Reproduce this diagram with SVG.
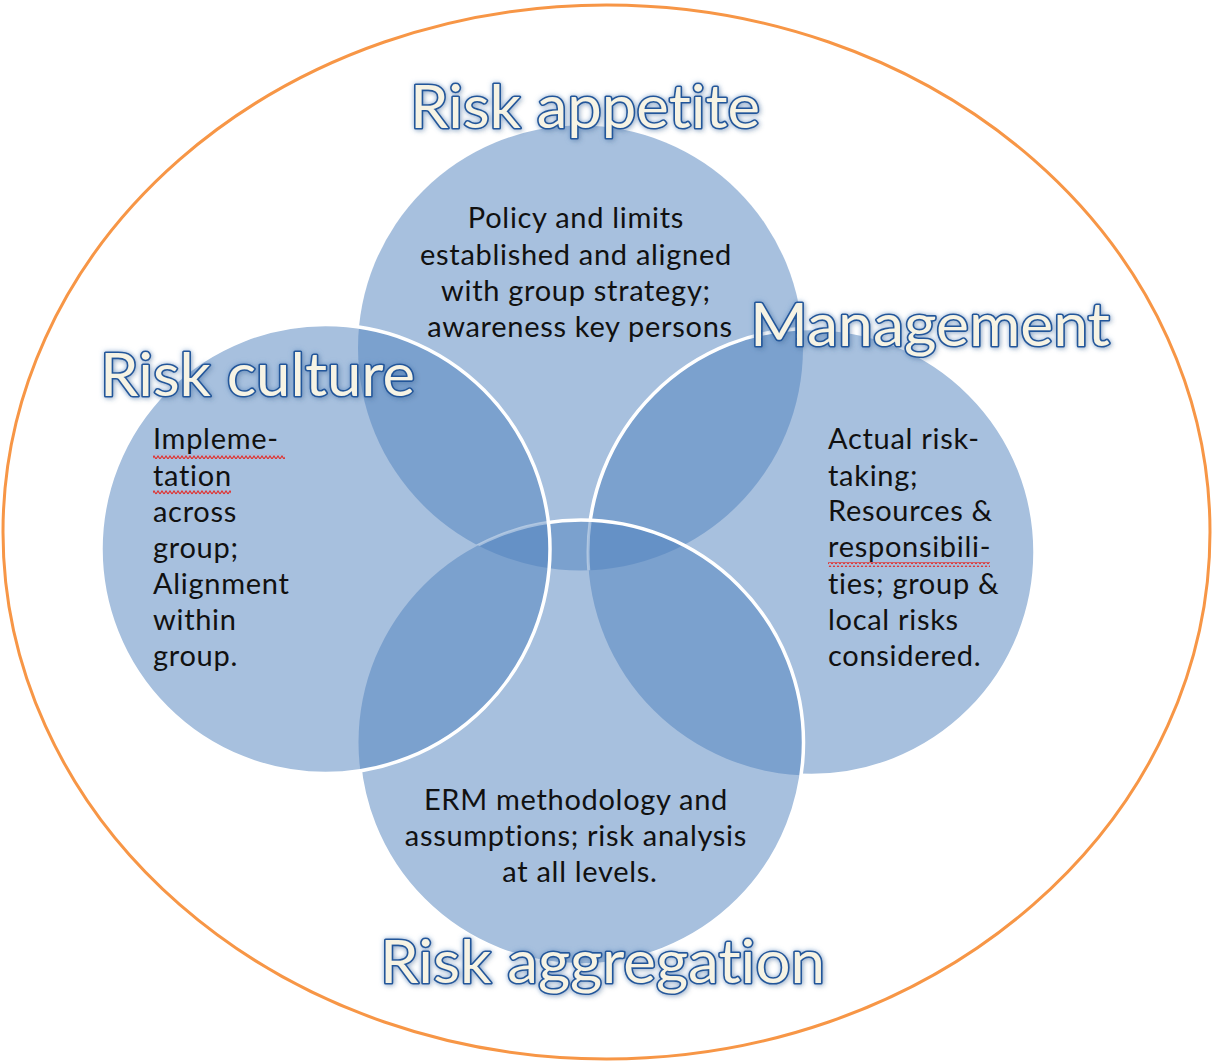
<svg xmlns="http://www.w3.org/2000/svg" width="1212" height="1064" viewBox="0 0 1212 1064">
  <style>
    .disc { fill: #4F81BD; fill-opacity: 0.5; stroke: none; }
    .edge { fill: none; stroke: #FFFFFF; stroke-width: 3.5; }
    .faint { fill: none; stroke: #FFFFFF; stroke-width: 3; stroke-opacity: 0.4; }
    .body { font-family: Lato, "Open Sans", "Liberation Sans", sans-serif; font-size: 29px; letter-spacing: 0.7px; fill: #111111; font-variant-ligatures: none; font-feature-settings: "liga" 0, "clig" 0, "dlig" 0; }
    .title { font-family: Lato, "Open Sans", "Liberation Sans", sans-serif; font-size: 60px; fill: #F6F3E4; stroke: #24579A; stroke-width: 3.2; paint-order: stroke fill; stroke-linejoin: round; filter: url(#glow); font-variant-ligatures: none; font-feature-settings: "liga" 0, "clig" 0, "dlig" 0; }
  </style>
  <defs>
    <filter id="glow" x="-10%" y="-30%" width="120%" height="160%">
      <feGaussianBlur in="SourceAlpha" stdDeviation="2.5" result="b"/>
      <feFlood flood-color="#4F81BD" flood-opacity="0.6"/>
      <feComposite in2="b" operator="in" result="g"/>
      <feOffset in="b" dx="2" dy="2" result="sb"/>
      <feFlood flood-color="#000000" flood-opacity="0.2"/>
      <feComposite in2="sb" operator="in" result="s"/>
      <feMerge>
        <feMergeNode in="s"/>
        <feMergeNode in="g"/>
        <feMergeNode in="SourceGraphic"/>
      </feMerge>
    </filter>
    <mask id="outB" maskUnits="userSpaceOnUse" x="0" y="0" width="1212" height="1064">
      <rect x="0" y="0" width="1212" height="1064" fill="#fff"/>
      <circle cx="581" cy="742.5" r="222.5" fill="#000"/>
    </mask>
    <mask id="outL" maskUnits="userSpaceOnUse" x="0" y="0" width="1212" height="1064">
      <rect x="0" y="0" width="1212" height="1064" fill="#fff"/>
      <circle cx="325.5" cy="549" r="224.5" fill="#000"/>
    </mask>
    <clipPath id="inT"><circle cx="580.5" cy="348" r="222.5"/></clipPath>
    <clipPath id="inB"><circle cx="581" cy="742.5" r="222.5"/></clipPath>
    <clipPath id="inL"><circle cx="325.5" cy="549" r="224.5"/></clipPath>
    <pattern id="squig" width="4" height="5" patternUnits="userSpaceOnUse">
      <polyline points="0,4 2,1 4,4" fill="none" stroke="#E0302E" stroke-width="1.2"/>
    </pattern>
  </defs>

  <rect x="0" y="0" width="1212" height="1064" fill="#FFFFFF"/>

  <g id="outer">
    <ellipse cx="606.5" cy="532" rx="603.5" ry="527" fill="none" stroke="#F79646" stroke-width="3"/>
  </g>

  <g id="risk-appetite">
    <circle class="disc" cx="580.5" cy="348" r="222.5"/>
  </g>
  <g id="management">
    <circle class="disc" cx="811.5" cy="552" r="223.5"/>
  </g>
  <g id="risk-aggregation">
    <circle class="disc" cx="581" cy="742.5" r="222.5"/>
  </g>
  <g id="risk-culture">
    <circle class="disc" cx="325.5" cy="549" r="224.5"/>
  </g>

  <g id="outlines">
    <circle class="edge" cx="811.5" cy="552" r="223.5" mask="url(#outB)"/>
    <g clip-path="url(#inT)"><g clip-path="url(#inB)">
      <circle class="faint" cx="811.5" cy="552" r="223.5"/>
    </g></g>
    <circle class="edge" cx="581" cy="742.5" r="222.5" mask="url(#outL)"/>
    <g clip-path="url(#inT)"><g clip-path="url(#inL)">
      <circle class="faint" cx="581" cy="742.5" r="222.5"/>
    </g></g>
    <circle class="edge" cx="325.5" cy="549" r="224.5"/>
  </g>

  <g id="titles">
    <text class="title" x="410" y="128" textLength="350" lengthAdjust="spacingAndGlyphs">Risk appetite</text>
    <text class="title" x="100" y="396" textLength="315" lengthAdjust="spacingAndGlyphs">Risk culture</text>
    <text class="title" x="750" y="346" textLength="360" lengthAdjust="spacingAndGlyphs">Management</text>
    <text class="title" x="380" y="983" textLength="445" lengthAdjust="spacingAndGlyphs">Risk aggregation</text>
  </g>

  <g id="texts">
    <text class="body" text-anchor="middle">
      <tspan x="580" y="228">Policy and limits</tspan>
      <tspan x="580" y="265">established and aligned</tspan>
      <tspan x="580" y="301">with group strategy;</tspan>
      <tspan x="580" y="337">awareness key persons</tspan>
    </text>
    <text class="body">
      <tspan x="153" y="449">Impleme-</tspan>
      <tspan x="153" y="486">tation</tspan>
      <tspan x="153" y="522">across</tspan>
      <tspan x="153" y="558">group;</tspan>
      <tspan x="153" y="594">Alignment</tspan>
      <tspan x="153" y="630">within</tspan>
      <tspan x="153" y="666">group.</tspan>
    </text>
    <text class="body">
      <tspan x="828" y="449">Actual risk-</tspan>
      <tspan x="828" y="486">taking;</tspan>
      <tspan x="828" y="521">Resources &amp;</tspan>
      <tspan x="828" y="557">responsibili-</tspan>
      <tspan x="828" y="594">ties; group &amp;</tspan>
      <tspan x="828" y="630">local risks</tspan>
      <tspan x="828" y="666">considered.</tspan>
    </text>
    <text class="body" text-anchor="middle">
      <tspan x="580" y="810">ERM methodology and</tspan>
      <tspan x="580" y="846">assumptions; risk analysis</tspan>
      <tspan x="580" y="882">at all levels.</tspan>
    </text>
  </g>

  <g id="spelling-marks">
    <rect x="153" y="454" width="132" height="5" fill="url(#squig)"/>
    <rect x="153" y="490" width="78" height="5" fill="url(#squig)"/>
    <rect x="828" y="562" width="162" height="5" fill="url(#squig)"/>
  </g>
</svg>
